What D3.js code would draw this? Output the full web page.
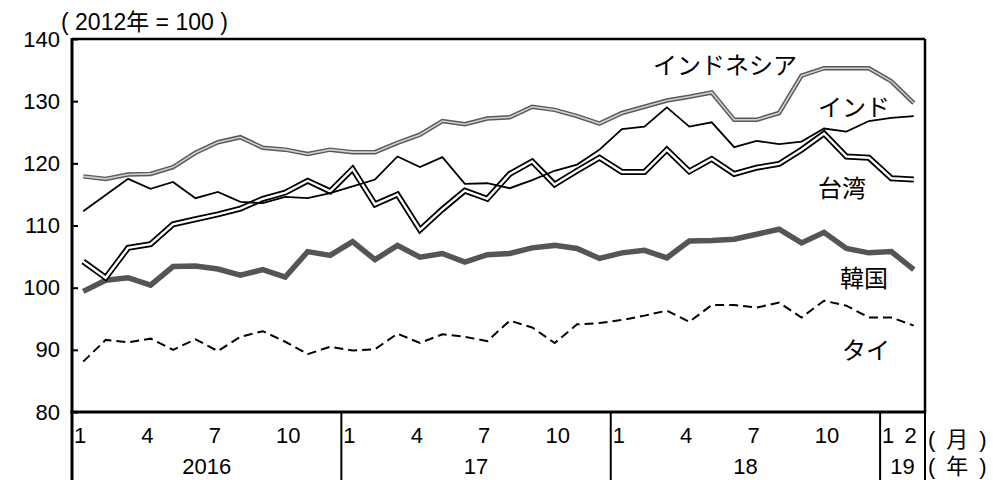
<!DOCTYPE html>
<html>
<head>
<meta charset="utf-8">
<script src="https://cdn.jsdelivr.net/npm/d3@7"></script>
<style>
  html, body { margin: 0; padding: 0; background: #fff; }
  svg { display: block; }
  text { font-family: "Liberation Sans", Arial, "Noto Sans CJK JP", sans-serif; fill: #000; }
  .jp { font-family: "Noto Sans CJK JP", "Liberation Sans", sans-serif; }
</style>
</head>
<body>
<svg id="chart" width="993" height="480"></svg>
<script>
// ---- data (monthly, Jan 2016 – Feb 2019), index 2012 = 100 ----
const months = d3.range(38);
const monthTickLabels = ["1","","","4","","","7","","","10","","",
                         "1","","","4","","","7","","","10","","",
                         "1","","","4","","","7","","","10","","",
                         "1","2"];
const yearLabels = ["2016", "17", "18", "19"];
const yearStarts = [0, 12, 24, 36];
const yearEnds   = [12, 24, 36, 38];
const yTicks = [80, 90, 100, 110, 120, 130, 140];

const indonesia = [117.9,117.5,118.2,118.3,119.4,121.7,123.4,124.2,122.5,122.2,121.5,122.2,
                   121.8,121.8,123.3,124.6,126.8,126.3,127.2,127.4,129.1,128.6,127.6,126.4,
                   128.1,129.1,130.1,130.7,131.4,127.0,127.0,128.1,134.1,135.3,135.3,135.3,
                   133.2,129.7];
const india     = [112.3,114.9,117.5,115.9,117.0,114.4,115.4,113.8,113.6,114.6,114.4,115.2,
                   116.3,117.4,121.1,119.4,121.0,116.7,116.8,116.0,117.3,118.8,119.8,122.2,
                   125.5,125.9,129.0,125.9,126.6,122.6,123.6,123.1,123.5,125.6,125.1,126.8,
                   127.3,127.6];
const taiwan    = [104.2,101.6,106.4,107.0,110.2,111.0,111.8,112.7,114.3,115.3,117.2,115.5,
                   119.1,113.4,115.0,109.3,112.6,115.6,114.3,118.3,120.3,116.6,118.8,120.9,
                   118.6,118.6,122.2,118.7,120.7,118.3,119.3,119.9,122.2,124.8,121.1,120.9,
                   117.6,117.4];
const korea     = [99.4,101.2,101.6,100.4,103.4,103.5,103.0,102.0,102.9,101.7,105.8,105.2,
                   107.4,104.5,106.8,104.9,105.5,104.1,105.3,105.5,106.4,106.8,106.3,104.7,
                   105.6,106.0,104.8,107.5,107.6,107.8,108.6,109.4,107.2,108.9,106.3,105.6,
                   105.8,102.9];
const thailand  = [88.1,91.6,91.2,91.8,90.0,91.7,89.8,92.1,93.0,91.3,89.3,90.5,
                   89.9,90.1,92.6,91.1,92.5,92.1,91.4,94.7,93.6,91.1,94.1,94.3,
                   94.8,95.5,96.3,94.5,97.2,97.2,96.8,97.6,95.2,97.9,97.1,95.2,
                   95.2,93.9];

const seriesNames = ["インドネシア", "インド", "台湾", "韓国", "タイ"];

// ---- layout ----
const svg = d3.select("#chart");
const L = 72, R = 925, T = 39, B = 412;

const x = d3.scaleBand().domain(months).range([L, R]).padding(0);
const xc = i => x(i) + x.bandwidth() / 2;
const y = d3.scaleLinear().domain([80, 140]).range([B, T]);

const line = vals => d3.line().x((d, i) => xc(i)).y(d => y(d))(vals);

// series
const g = svg.append("g");
g.append("path").attr("d", line(korea)).attr("fill", "none")
  .attr("stroke", "#555").attr("stroke-width", 5.5);
g.append("path").attr("d", line(thailand)).attr("fill", "none")
  .attr("stroke", "#000").attr("stroke-width", 2).attr("stroke-dasharray", "9,5");
g.append("path").attr("d", line(indonesia)).attr("fill", "none")
  .attr("stroke", "#5a5a5a").attr("stroke-width", 4.5);
g.append("path").attr("d", line(indonesia)).attr("fill", "none")
  .attr("stroke", "#cfcfcf").attr("stroke-width", 1.6);
g.append("path").attr("d", line(taiwan)).attr("fill", "none")
  .attr("stroke", "#000").attr("stroke-width", 6);
g.append("path").attr("d", line(taiwan)).attr("fill", "none")
  .attr("stroke", "#fff").attr("stroke-width", 2.4);
g.append("path").attr("d", line(india)).attr("fill", "none")
  .attr("stroke", "#000").attr("stroke-width", 1.8);

// frame
svg.append("line").attr("x1", L).attr("x2", R).attr("y1", T).attr("y2", T)
  .attr("stroke", "#000").attr("stroke-width", 2.5);
svg.append("line").attr("x1", R).attr("x2", R).attr("y1", T).attr("y2", B)
  .attr("stroke", "#000").attr("stroke-width", 2.5);

// y axis (ticks inward)
const yAxis = d3.axisRight(y).tickValues(yTicks).tickSize(6).tickFormat("");
const ya = svg.append("g").attr("transform", `translate(${L},0)`).call(yAxis);
ya.select(".domain").remove();
ya.selectAll(".tick line").attr("stroke", "#000").attr("stroke-width", 2);
svg.append("line").attr("x1", L).attr("x2", L).attr("y1", T - 1).attr("y2", B)
  .attr("stroke", "#000").attr("stroke-width", 3);
svg.append("g").selectAll("text").data(yTicks).join("text")
  .attr("x", 60).attr("y", d => y(d)).attr("text-anchor", "end")
  .attr("dominant-baseline", "central").attr("font-size", 22).text(d => d);

// x axis line
svg.append("line").attr("x1", L - 1.5).attr("x2", R + 1.2).attr("y1", B).attr("y2", B)
  .attr("stroke", "#000").attr("stroke-width", 3);

// month labels (left-aligned within band)
svg.append("g").selectAll("text").data(months.filter(i => monthTickLabels[i] !== "")).join("text")
  .attr("x", i => x(i) + 2).attr("y", 443).attr("font-size", 22)
  .text(i => monthTickLabels[i]);

// year dividers and labels
const divs = yearStarts.slice(1).map(i => x(i));
svg.append("g").selectAll("line").data(divs).join("line")
  .attr("x1", d => d).attr("x2", d => d).attr("y1", B).attr("y2", 480)
  .attr("stroke", "#000").attr("stroke-width", 2);
svg.append("line").attr("x1", L).attr("x2", L).attr("y1", B).attr("y2", 480)
  .attr("stroke", "#000").attr("stroke-width", 3);
svg.append("line").attr("x1", R).attr("x2", R).attr("y1", B).attr("y2", 480)
  .attr("stroke", "#000").attr("stroke-width", 2);
svg.append("g").selectAll("text").data(yearLabels).join("text")
  .attr("x", (d, k) => (x(yearStarts[k]) + (yearEnds[k] === 38 ? R : x(yearEnds[k]))) / 2)
  .attr("y", 474).attr("text-anchor", "middle").attr("font-size", 22).text(d => d);

// unit labels
svg.append("text").attr("x", 928).attr("y", 447).attr("font-size", 22).text("(\u2002月\u2002)");
svg.append("text").attr("x", 928).attr("y", 474).attr("font-size", 22).text("(\u2002年\u2002)");
svg.append("text").attr("x", 61).attr("y", 30).attr("font-size", 23).text("( 2012年 = 100 )");

// series labels
const labelPos = [[653, 63], [818, 105], [818, 186], [840, 276], [842, 348]];
svg.append("g").selectAll("text").data(seriesNames).join("text")
  .attr("class", "jp")
  .attr("x", (d, k) => labelPos[k][0]).attr("y", (d, k) => labelPos[k][1])
  .attr("dominant-baseline", "central").attr("font-size", 24).text(d => d);
</script>
</body>
</html>
